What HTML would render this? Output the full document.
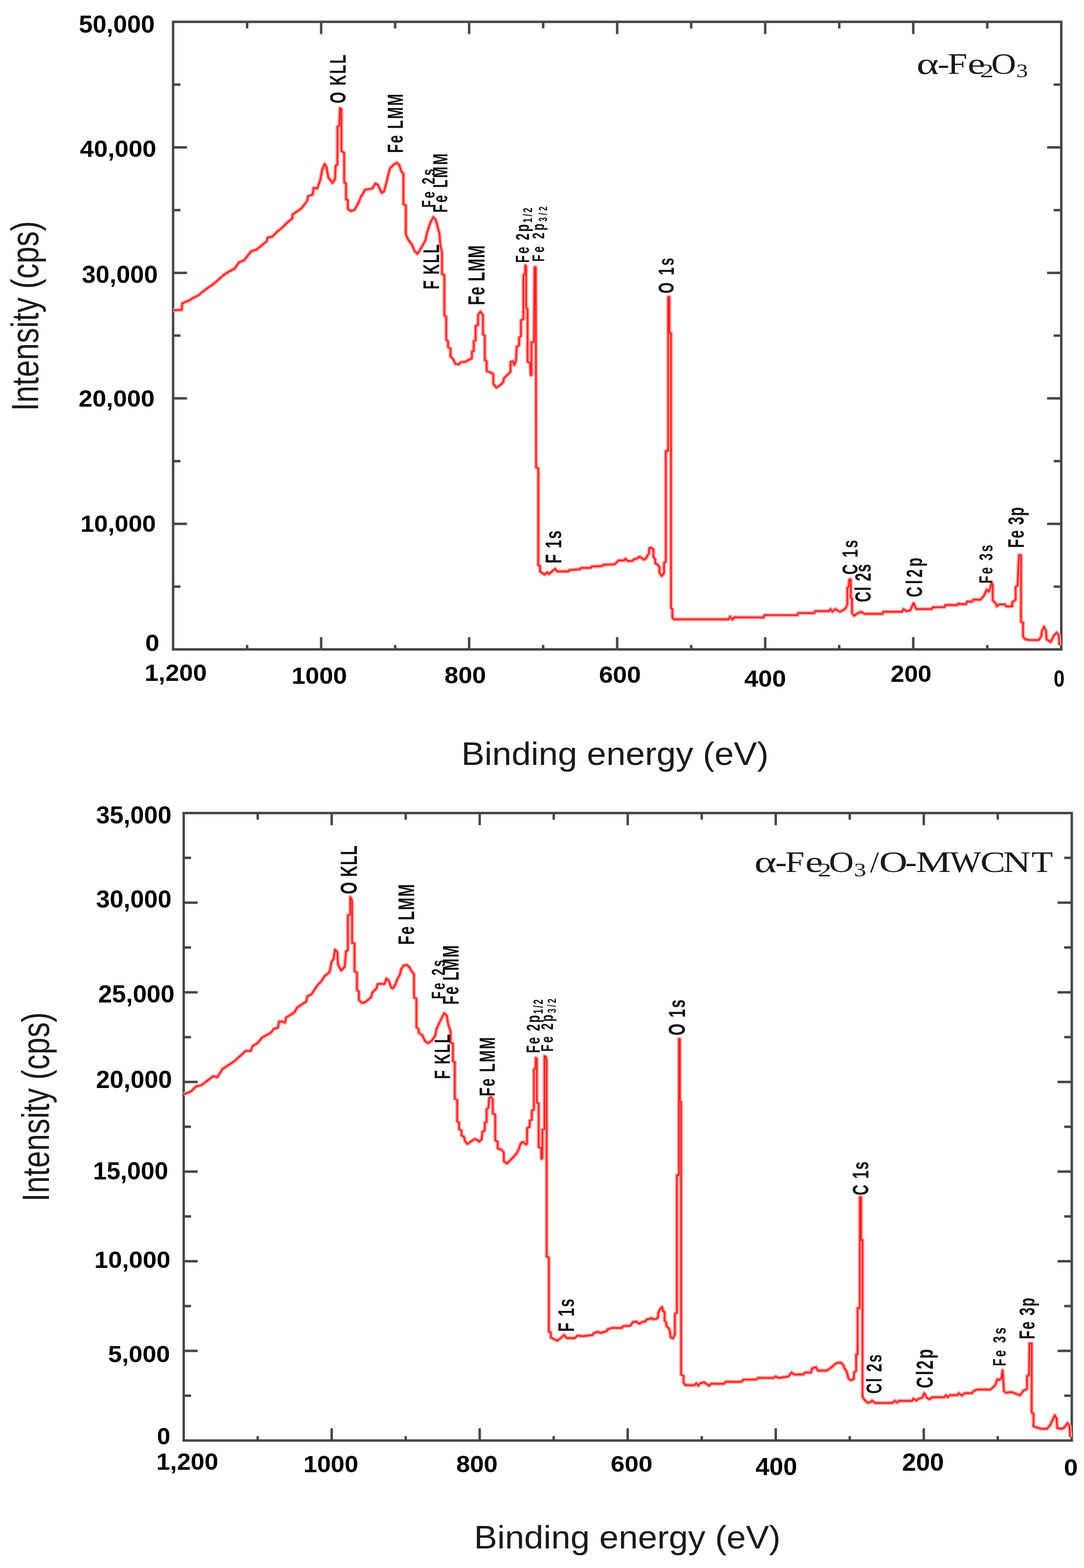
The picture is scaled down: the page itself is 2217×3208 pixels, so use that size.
<!DOCTYPE html>
<html><head><meta charset="utf-8"><title>XPS survey spectra</title>
<style>html,body{margin:0;padding:0;background:#fff;}svg{display:block;}</style>
</head><body>
<svg width="2217" height="3208" viewBox="0 0 2217 3208">
<rect width="2217" height="3208" fill="#fff"/>
<g stroke="#464646" stroke-width="5" fill="none" stroke-linecap="butt">
<rect x="354.0" y="44.7" width="1816.5" height="1283.8999999999999"/>
<line x1="2019.1" y1="1328.6" x2="2019.1" y2="1319.6"/>
<line x1="2019.1" y1="44.7" x2="2019.1" y2="58.2"/>
<line x1="1867.8" y1="1328.6" x2="1867.8" y2="1303.6"/>
<line x1="1867.8" y1="44.7" x2="1867.8" y2="69.7"/>
<line x1="1716.4" y1="1328.6" x2="1716.4" y2="1319.6"/>
<line x1="1716.4" y1="44.7" x2="1716.4" y2="58.2"/>
<line x1="1565.0" y1="1328.6" x2="1565.0" y2="1303.6"/>
<line x1="1565.0" y1="44.7" x2="1565.0" y2="69.7"/>
<line x1="1413.6" y1="1328.6" x2="1413.6" y2="1319.6"/>
<line x1="1413.6" y1="44.7" x2="1413.6" y2="58.2"/>
<line x1="1262.2" y1="1328.6" x2="1262.2" y2="1303.6"/>
<line x1="1262.2" y1="44.7" x2="1262.2" y2="69.7"/>
<line x1="1110.9" y1="1328.6" x2="1110.9" y2="1319.6"/>
<line x1="1110.9" y1="44.7" x2="1110.9" y2="58.2"/>
<line x1="959.5" y1="1328.6" x2="959.5" y2="1303.6"/>
<line x1="959.5" y1="44.7" x2="959.5" y2="69.7"/>
<line x1="808.1" y1="1328.6" x2="808.1" y2="1319.6"/>
<line x1="808.1" y1="44.7" x2="808.1" y2="58.2"/>
<line x1="656.8" y1="1328.6" x2="656.8" y2="1303.6"/>
<line x1="656.8" y1="44.7" x2="656.8" y2="69.7"/>
<line x1="505.4" y1="1328.6" x2="505.4" y2="1319.6"/>
<line x1="505.4" y1="44.7" x2="505.4" y2="58.2"/>
<line x1="354.0" y1="1071.8" x2="382.5" y2="1071.8"/>
<line x1="2170.5" y1="1071.8" x2="2141.5" y2="1071.8"/>
<line x1="354.0" y1="815.0" x2="382.5" y2="815.0"/>
<line x1="2170.5" y1="815.0" x2="2141.5" y2="815.0"/>
<line x1="354.0" y1="558.3" x2="382.5" y2="558.3"/>
<line x1="2170.5" y1="558.3" x2="2141.5" y2="558.3"/>
<line x1="354.0" y1="301.5" x2="382.5" y2="301.5"/>
<line x1="2170.5" y1="301.5" x2="2141.5" y2="301.5"/>
<line x1="354.0" y1="1200.2" x2="369.0" y2="1200.2"/>
<line x1="2170.5" y1="1200.2" x2="2155.0" y2="1200.2"/>
<line x1="354.0" y1="943.4" x2="369.0" y2="943.4"/>
<line x1="2170.5" y1="943.4" x2="2155.0" y2="943.4"/>
<line x1="354.0" y1="686.6" x2="369.0" y2="686.6"/>
<line x1="2170.5" y1="686.6" x2="2155.0" y2="686.6"/>
<line x1="354.0" y1="429.9" x2="369.0" y2="429.9"/>
<line x1="2170.5" y1="429.9" x2="2155.0" y2="429.9"/>
<line x1="354.0" y1="173.1" x2="369.0" y2="173.1"/>
<line x1="2170.5" y1="173.1" x2="2155.0" y2="173.1"/>
</g>
<g stroke="#464646" stroke-width="5" fill="none" stroke-linecap="butt">
<rect x="375.7" y="1663.4" width="1816.3" height="1283.7999999999997"/>
<line x1="2040.6" y1="2947.2" x2="2040.6" y2="2938.2"/>
<line x1="2040.6" y1="1663.4" x2="2040.6" y2="1676.9"/>
<line x1="1889.3" y1="2947.2" x2="1889.3" y2="2922.2"/>
<line x1="1889.3" y1="1663.4" x2="1889.3" y2="1688.4"/>
<line x1="1737.9" y1="2947.2" x2="1737.9" y2="2938.2"/>
<line x1="1737.9" y1="1663.4" x2="1737.9" y2="1676.9"/>
<line x1="1586.6" y1="2947.2" x2="1586.6" y2="2922.2"/>
<line x1="1586.6" y1="1663.4" x2="1586.6" y2="1688.4"/>
<line x1="1435.2" y1="2947.2" x2="1435.2" y2="2938.2"/>
<line x1="1435.2" y1="1663.4" x2="1435.2" y2="1676.9"/>
<line x1="1283.8" y1="2947.2" x2="1283.8" y2="2922.2"/>
<line x1="1283.8" y1="1663.4" x2="1283.8" y2="1688.4"/>
<line x1="1132.5" y1="2947.2" x2="1132.5" y2="2938.2"/>
<line x1="1132.5" y1="1663.4" x2="1132.5" y2="1676.9"/>
<line x1="981.1" y1="2947.2" x2="981.1" y2="2922.2"/>
<line x1="981.1" y1="1663.4" x2="981.1" y2="1688.4"/>
<line x1="829.8" y1="2947.2" x2="829.8" y2="2938.2"/>
<line x1="829.8" y1="1663.4" x2="829.8" y2="1676.9"/>
<line x1="678.4" y1="2947.2" x2="678.4" y2="2922.2"/>
<line x1="678.4" y1="1663.4" x2="678.4" y2="1688.4"/>
<line x1="527.1" y1="2947.2" x2="527.1" y2="2938.2"/>
<line x1="527.1" y1="1663.4" x2="527.1" y2="1676.9"/>
<line x1="375.7" y1="2763.8" x2="404.2" y2="2763.8"/>
<line x1="2192.0" y1="2763.8" x2="2163.0" y2="2763.8"/>
<line x1="375.7" y1="2580.4" x2="404.2" y2="2580.4"/>
<line x1="2192.0" y1="2580.4" x2="2163.0" y2="2580.4"/>
<line x1="375.7" y1="2397.0" x2="404.2" y2="2397.0"/>
<line x1="2192.0" y1="2397.0" x2="2163.0" y2="2397.0"/>
<line x1="375.7" y1="2213.6" x2="404.2" y2="2213.6"/>
<line x1="2192.0" y1="2213.6" x2="2163.0" y2="2213.6"/>
<line x1="375.7" y1="2030.2" x2="404.2" y2="2030.2"/>
<line x1="2192.0" y1="2030.2" x2="2163.0" y2="2030.2"/>
<line x1="375.7" y1="1846.8" x2="404.2" y2="1846.8"/>
<line x1="2192.0" y1="1846.8" x2="2163.0" y2="1846.8"/>
<line x1="375.7" y1="2855.5" x2="390.7" y2="2855.5"/>
<line x1="2192.0" y1="2855.5" x2="2176.5" y2="2855.5"/>
<line x1="375.7" y1="2672.1" x2="390.7" y2="2672.1"/>
<line x1="2192.0" y1="2672.1" x2="2176.5" y2="2672.1"/>
<line x1="375.7" y1="2488.7" x2="390.7" y2="2488.7"/>
<line x1="2192.0" y1="2488.7" x2="2176.5" y2="2488.7"/>
<line x1="375.7" y1="2305.3" x2="390.7" y2="2305.3"/>
<line x1="2192.0" y1="2305.3" x2="2176.5" y2="2305.3"/>
<line x1="375.7" y1="2121.9" x2="390.7" y2="2121.9"/>
<line x1="2192.0" y1="2121.9" x2="2176.5" y2="2121.9"/>
<line x1="375.7" y1="1938.5" x2="390.7" y2="1938.5"/>
<line x1="2192.0" y1="1938.5" x2="2176.5" y2="1938.5"/>
<line x1="375.7" y1="1755.1" x2="390.7" y2="1755.1"/>
<line x1="2192.0" y1="1755.1" x2="2176.5" y2="1755.1"/>
</g>
<path d="M354.0,634.9 L371.6,634.0 L372.5,620.8 L387.6,614.2 L395.1,609.5 L406.4,603.9 L415.8,595.5 L425.2,588.9 L434.6,582.3 L444.0,574.8 L455.3,564.4 L467.5,556.0 L480.0,549.5 L488.5,536.8 L498.8,533.0 L513.5,514.3 L524.8,510.5 L534.2,503.0 L545.5,493.6 L547.4,486.1 L556.8,484.2 L568.0,472.9 L577.4,465.4 L586.8,456.0 L598.1,446.6 L598.1,439.1 L616.9,425.9 L628.2,410.9 L630.1,401.5 L639.5,397.7 L641.4,384.6 L648.8,385.5 L655.1,367.9 L658.8,347.9 L663.8,335.3 L667.6,341.6 L671.4,362.9 L680.1,374.2 L685.1,366.7 L686.4,339.1 L690.2,336.6 L690.2,258.9 L693.9,257.6 L695.2,221.3 L698.3,223.8 L698.3,309.0 L703.9,312.8 L703.9,372.9 L707.7,375.4 L707.7,408.0 L711.5,409.3 L711.5,428.1 L717.7,431.8 L725.2,429.3 L732.8,415.5 L739.0,400.5 L741.5,398.0 L746.5,388.0 L761.6,385.5 L767.8,375.4 L772.9,378.0 L780.4,394.2 L785.4,391.7 L790.4,372.9 L794.2,356.6 L797.9,344.1 L805.4,336.6 L811.7,332.8 L816.7,337.8 L820.5,350.4 L825.0,355.1 L825.0,417.8 L830.0,420.3 L830.0,479.2 L835.0,490.5 L842.6,500.5 L847.6,513.0 L853.8,519.3 L860.1,509.3 L870.1,491.7 L873.9,474.2 L877.6,462.9 L881.4,452.9 L886.4,444.1 L891.4,450.4 L895.2,464.2 L899.0,479.2 L900.5,500.5 L904.0,516.8 L904.0,560.7 L908.8,562.6 L908.8,645.3 L912.6,647.8 L912.6,695.4 L916.3,697.9 L916.3,710.4 L921.3,712.9 L921.3,729.2 L926.3,734.2 L931.4,744.3 L937.6,745.5 L943.9,740.5 L951.4,740.5 L957.7,736.7 L965.2,733.0 L965.2,719.2 L968.9,718.0 L968.9,697.9 L972.7,696.6 L972.7,666.6 L977.7,665.3 L977.7,644.0 L982.7,637.7 L987.7,644.0 L987.7,684.1 L991.5,686.6 L991.5,736.7 L995.3,739.2 L995.3,759.3 L1002.8,761.8 L1009.0,765.6 L1009.0,785.6 L1015.3,793.1 L1022.8,788.1 L1029.1,781.9 L1030.4,774.3 L1039.1,765.6 L1044.1,760.6 L1044.1,740.5 L1049.2,739.2 L1051.7,746.8 L1055.4,738.0 L1056.7,709.2 L1061.7,706.7 L1061.7,690.4 L1065.4,687.9 L1065.4,655.3 L1070.5,652.8 L1070.5,562.3 L1073.8,561.0 L1074.4,542.9 L1076.0,545.0 L1076.0,629.9 L1079.0,632.5 L1079.0,740.3 L1084.2,742.9 L1085.5,767.5 L1087.0,767.5 L1087.0,700.0 L1092.0,700.0 L1093.2,546.8 L1095.8,546.8 L1096.4,956.4 L1100.9,958.2 L1100.9,1156.4 L1104.5,1158.2 L1104.5,1169.1 L1113.6,1175.5 L1119.1,1170.9 L1122.7,1174.5 L1135.5,1163.6 L1139.1,1169.1 L1162.7,1169.1 L1164.5,1166.4 L1186.4,1164.5 L1188.2,1161.8 L1208.2,1161.8 L1210.0,1159.1 L1231.8,1158.2 L1233.6,1155.5 L1257.3,1154.5 L1265.0,1146.7 L1276.3,1146.7 L1279.1,1143.0 L1283.8,1147.7 L1293.2,1147.7 L1297.0,1143.9 L1302.6,1143.0 L1307.3,1139.2 L1311.1,1140.2 L1315.8,1144.8 L1320.5,1143.0 L1324.2,1136.4 L1327.1,1132.6 L1328.0,1121.4 L1331.8,1120.4 L1336.5,1124.2 L1336.5,1140.2 L1340.2,1143.9 L1340.2,1152.4 L1344.9,1155.2 L1348.7,1159.9 L1348.7,1171.2 L1353.4,1178.7 L1358.1,1172.1 L1358.1,1151.4 L1361.7,1149.5 L1361.7,922.5 L1366.5,922.5 L1366.5,607.7 L1369.0,607.7 L1369.0,680.4 L1372.3,682.0 L1372.3,1244.0 L1375.1,1246.5 L1375.1,1264.0 L1378.8,1267.2 L1490.4,1267.2 L1492.9,1261.5 L1497.9,1267.8 L1501.6,1262.8 L1562.0,1263.4 L1563.4,1258.5 L1631.0,1258.5 L1632.3,1254.4 L1665.4,1254.4 L1666.8,1250.3 L1695.8,1250.3 L1698.5,1246.1 L1702.6,1251.6 L1708.2,1246.1 L1717.8,1251.6 L1726.1,1247.5 L1730.2,1243.4 L1733.0,1236.5 L1733.0,1202.0 L1736.0,1200.0 L1737.0,1185.5 L1740.0,1185.5 L1740.0,1222.7 L1742.6,1224.1 L1742.6,1254.4 L1746.8,1259.9 L1752.3,1255.8 L1761.0,1251.6 L1767.9,1255.8 L1805.1,1255.8 L1806.5,1251.6 L1845.1,1251.6 L1847.9,1246.1 L1853.4,1250.3 L1861.6,1248.9 L1868.5,1233.7 L1874.0,1246.1 L1905.8,1246.1 L1907.1,1242.7 L1932.0,1242.0 L1933.3,1237.9 L1958.1,1237.9 L1959.5,1235.1 L1975.2,1236.5 L1977.9,1230.9 L1988.9,1230.9 L1990.3,1226.8 L2005.5,1226.8 L2012.4,1218.5 L2017.9,1206.1 L2022.0,1210.3 L2024.8,1204.8 L2027.5,1193.7 L2030.3,1195.1 L2030.3,1228.2 L2035.8,1233.7 L2038.6,1240.6 L2044.1,1236.5 L2055.1,1236.5 L2057.9,1240.6 L2070.3,1240.6 L2070.3,1232.3 L2077.2,1226.8 L2077.2,1200.6 L2081.3,1197.9 L2084.0,1135.8 L2088.2,1135.8 L2088.2,1196.5 L2088.2,1272.3 L2092.3,1273.7 L2092.3,1302.6 L2097.8,1308.1 L2104.7,1309.5 L2124.0,1309.5 L2129.5,1302.6 L2130.9,1291.6 L2135.1,1281.9 L2139.2,1290.2 L2140.6,1308.1 L2148.8,1313.6 L2155.7,1299.9 L2161.2,1294.3 L2165.4,1299.9 L2166.8,1320.5" fill="none" stroke="#ffa6a6" stroke-width="8.2" stroke-linejoin="round"/>
<path d="M375.7,2239.1 L390.7,2232.9 L401.0,2222.6 L411.4,2220.5 L436.2,2201.9 L444.4,2204.0 L454.8,2187.4 L467.2,2179.2 L479.6,2170.9 L502.3,2150.2 L512.7,2150.2 L516.8,2139.9 L527.2,2133.7 L535.4,2123.3 L545.8,2117.1 L554.0,2113.0 L560.2,2104.7 L568.5,2102.6 L570.6,2090.2 L578.9,2090.2 L583.0,2092.3 L585.0,2082.0 L601.6,2071.6 L607.8,2061.3 L626.4,2048.9 L628.5,2038.5 L636.8,2034.4 L649.2,2015.8 L657.4,2007.5 L663.6,1997.2 L674.0,1988.9 L678.1,1968.2 L682.2,1962.0 L685.2,1942.9 L690.0,1947.9 L691.3,1972.9 L697.5,1985.5 L705.1,1978.0 L707.6,1946.6 L711.5,1944.1 L711.5,1872.7 L716.3,1871.4 L716.3,1835.1 L720.1,1842.6 L720.1,1929.1 L725.1,1930.3 L725.1,1986.7 L730.1,1990.5 L730.1,2025.6 L733.9,2028.1 L733.9,2045.6 L740.2,2051.9 L746.4,2050.6 L752.7,2045.6 L758.9,2040.6 L761.5,2030.6 L770.2,2021.8 L772.7,2013.0 L786.5,2013.0 L790.3,2001.8 L795.3,2006.8 L800.3,2020.6 L804.1,2021.8 L809.1,2013.0 L812.8,2003.0 L817.8,1994.2 L820.4,1983.0 L825.4,1975.4 L831.6,1974.2 L836.6,1977.9 L841.7,1986.7 L846.7,1993.0 L846.7,2040.6 L851.7,2043.1 L851.7,2101.8 L856.3,2105.5 L856.3,2113.0 L863.8,2118.0 L868.8,2129.3 L875.1,2134.3 L882.6,2129.3 L890.1,2119.3 L892.6,2105.5 L898.9,2091.7 L903.9,2081.7 L908.3,2072.9 L913.9,2078.0 L916.4,2094.2 L920.1,2106.3 L921.5,2110.5 L921.5,2133.1 L926.4,2135.1 L926.4,2171.4 L930.1,2172.7 L930.1,2247.9 L935.1,2250.4 L935.1,2294.2 L938.9,2296.7 L938.9,2310.5 L943.9,2313.0 L943.9,2323.1 L948.9,2325.6 L951.4,2335.6 L956.4,2340.6 L962.7,2335.6 L970.2,2330.6 L975.2,2331.8 L980.3,2335.6 L985.3,2330.6 L986.5,2315.5 L991.5,2313.0 L991.5,2296.7 L995.3,2295.5 L995.3,2269.2 L999.0,2266.7 L1000.3,2246.6 L1004.1,2244.1 L1007.8,2249.1 L1007.8,2278.0 L1012.8,2280.5 L1012.8,2333.1 L1017.8,2335.6 L1017.8,2349.4 L1025.4,2351.9 L1030.4,2358.1 L1030.4,2375.7 L1036.8,2380.5 L1043.3,2374.0 L1049.8,2367.5 L1056.3,2360.0 L1060.6,2352.4 L1064.9,2339.4 L1069.3,2336.1 L1075.8,2341.6 L1077.9,2339.4 L1077.9,2308.0 L1083.3,2305.8 L1083.3,2292.9 L1087.7,2290.7 L1087.7,2272.3 L1092.0,2270.1 L1092.0,2187.9 L1095.2,2185.7 L1095.8,2164.1 L1097.9,2166.0 L1097.9,2256.1 L1101.7,2257.1 L1101.7,2347.0 L1107.1,2349.1 L1107.1,2370.8 L1109.3,2369.7 L1109.3,2311.3 L1113.6,2310.2 L1113.6,2160.8 L1116.0,2162.0 L1118.0,2168.4 L1118.0,2570.8 L1122.5,2572.7 L1122.5,2724.7 L1126.4,2726.0 L1126.4,2736.4 L1139.4,2742.9 L1147.1,2737.7 L1153.6,2731.2 L1158.8,2737.7 L1175.7,2737.7 L1180.9,2732.5 L1192.6,2733.8 L1212.1,2731.2 L1214.7,2727.3 L1222.5,2724.7 L1227.7,2727.3 L1240.6,2723.4 L1243.2,2719.5 L1251.0,2716.9 L1271.8,2716.9 L1274.4,2713.0 L1289.0,2712.3 L1295.0,2704.3 L1302.1,2704.3 L1307.1,2708.3 L1312.1,2705.3 L1320.1,2703.3 L1323.1,2699.3 L1329.1,2698.3 L1332.1,2696.3 L1336.1,2699.3 L1342.2,2698.3 L1346.2,2694.3 L1346.2,2686.3 L1350.2,2678.2 L1354.2,2674.2 L1356.2,2682.3 L1359.2,2684.3 L1359.2,2701.3 L1362.2,2705.3 L1363.2,2713.3 L1368.2,2718.3 L1370.2,2723.4 L1371.2,2735.4 L1376.2,2738.4 L1380.3,2730.4 L1380.3,2687.3 L1384.3,2686.3 L1384.3,2404.4 L1388.5,2404.4 L1388.5,2125.5 L1390.5,2125.5 L1390.5,2252.7 L1393.0,2254.0 L1393.0,2812.1 L1398.0,2815.1 L1398.0,2829.1 L1402.1,2834.1 L1420.1,2834.1 L1424.1,2830.1 L1428.1,2835.1 L1432.1,2830.1 L1440.2,2828.1 L1450.2,2835.1 L1454.2,2831.1 L1480.3,2831.1 L1484.3,2827.1 L1516.3,2827.1 L1520.4,2822.5 L1546.4,2822.5 L1550.4,2819.1 L1582.5,2819.1 L1586.5,2816.1 L1592.5,2819.1 L1612.6,2816.1 L1618.6,2808.1 L1624.6,2812.1 L1642.7,2812.1 L1646.7,2808.1 L1658.7,2808.1 L1660.7,2800.0 L1668.7,2797.0 L1672.7,2804.1 L1690.8,2804.1 L1696.2,2800.5 L1702.5,2795.9 L1707.1,2791.2 L1712.6,2788.1 L1720.4,2788.1 L1725.1,2793.5 L1727.4,2800.5 L1730.5,2803.7 L1733.6,2813.0 L1735.2,2820.0 L1739.9,2823.9 L1746.1,2821.6 L1746.9,2807.6 L1751.0,2805.2 L1751.0,2771.0 L1754.0,2771.0 L1754.0,2676.4 L1758.5,2676.4 L1758.5,2449.1 L1761.0,2449.1 L1761.0,2537.0 L1764.0,2537.0 L1764.0,2857.4 L1768.0,2863.7 L1774.2,2869.9 L1780.4,2868.4 L1783.5,2865.2 L1789.6,2870.3 L1825.5,2870.3 L1829.6,2866.1 L1835.1,2869.6 L1837.9,2866.1 L1865.5,2866.1 L1868.2,2861.3 L1873.7,2865.5 L1879.2,2861.3 L1886.1,2860.0 L1890.3,2850.3 L1895.8,2860.0 L1901.3,2862.7 L1906.8,2858.6 L1931.6,2858.6 L1934.4,2854.4 L1938.5,2858.6 L1942.6,2854.4 L1957.8,2854.4 L1960.6,2850.3 L1967.5,2855.1 L1973.0,2850.3 L1988.1,2850.3 L1990.9,2846.2 L1997.9,2842.9 L2025.5,2842.9 L2034.7,2835.0 L2040.0,2821.8 L2043.9,2823.2 L2047.9,2820.5 L2050.5,2803.4 L2051.8,2820.5 L2053.2,2845.5 L2057.1,2849.5 L2068.9,2848.2 L2079.5,2852.1 L2086.1,2854.7 L2092.6,2845.5 L2100.5,2841.6 L2100.5,2815.3 L2104.5,2814.0 L2105.5,2748.6 L2110.0,2748.6 L2110.0,2890.3 L2113.7,2891.6 L2113.7,2917.9 L2120.3,2920.5 L2129.5,2923.2 L2141.3,2923.2 L2147.9,2915.3 L2151.8,2907.4 L2157.1,2895.5 L2161.0,2902.1 L2162.4,2921.8 L2170.3,2923.2 L2175.5,2921.8 L2183.4,2911.3 L2187.4,2917.9 L2188.7,2940.3" fill="none" stroke="#ffa6a6" stroke-width="8.2" stroke-linejoin="round"/>
<path d="M354.0,634.9 L371.6,634.0 L372.5,620.8 L387.6,614.2 L395.1,609.5 L406.4,603.9 L415.8,595.5 L425.2,588.9 L434.6,582.3 L444.0,574.8 L455.3,564.4 L467.5,556.0 L480.0,549.5 L488.5,536.8 L498.8,533.0 L513.5,514.3 L524.8,510.5 L534.2,503.0 L545.5,493.6 L547.4,486.1 L556.8,484.2 L568.0,472.9 L577.4,465.4 L586.8,456.0 L598.1,446.6 L598.1,439.1 L616.9,425.9 L628.2,410.9 L630.1,401.5 L639.5,397.7 L641.4,384.6 L648.8,385.5 L655.1,367.9 L658.8,347.9 L663.8,335.3 L667.6,341.6 L671.4,362.9 L680.1,374.2 L685.1,366.7 L686.4,339.1 L690.2,336.6 L690.2,258.9 L693.9,257.6 L695.2,221.3 L698.3,223.8 L698.3,309.0 L703.9,312.8 L703.9,372.9 L707.7,375.4 L707.7,408.0 L711.5,409.3 L711.5,428.1 L717.7,431.8 L725.2,429.3 L732.8,415.5 L739.0,400.5 L741.5,398.0 L746.5,388.0 L761.6,385.5 L767.8,375.4 L772.9,378.0 L780.4,394.2 L785.4,391.7 L790.4,372.9 L794.2,356.6 L797.9,344.1 L805.4,336.6 L811.7,332.8 L816.7,337.8 L820.5,350.4 L825.0,355.1 L825.0,417.8 L830.0,420.3 L830.0,479.2 L835.0,490.5 L842.6,500.5 L847.6,513.0 L853.8,519.3 L860.1,509.3 L870.1,491.7 L873.9,474.2 L877.6,462.9 L881.4,452.9 L886.4,444.1 L891.4,450.4 L895.2,464.2 L899.0,479.2 L900.5,500.5 L904.0,516.8 L904.0,560.7 L908.8,562.6 L908.8,645.3 L912.6,647.8 L912.6,695.4 L916.3,697.9 L916.3,710.4 L921.3,712.9 L921.3,729.2 L926.3,734.2 L931.4,744.3 L937.6,745.5 L943.9,740.5 L951.4,740.5 L957.7,736.7 L965.2,733.0 L965.2,719.2 L968.9,718.0 L968.9,697.9 L972.7,696.6 L972.7,666.6 L977.7,665.3 L977.7,644.0 L982.7,637.7 L987.7,644.0 L987.7,684.1 L991.5,686.6 L991.5,736.7 L995.3,739.2 L995.3,759.3 L1002.8,761.8 L1009.0,765.6 L1009.0,785.6 L1015.3,793.1 L1022.8,788.1 L1029.1,781.9 L1030.4,774.3 L1039.1,765.6 L1044.1,760.6 L1044.1,740.5 L1049.2,739.2 L1051.7,746.8 L1055.4,738.0 L1056.7,709.2 L1061.7,706.7 L1061.7,690.4 L1065.4,687.9 L1065.4,655.3 L1070.5,652.8 L1070.5,562.3 L1073.8,561.0 L1074.4,542.9 L1076.0,545.0 L1076.0,629.9 L1079.0,632.5 L1079.0,740.3 L1084.2,742.9 L1085.5,767.5 L1087.0,767.5 L1087.0,700.0 L1092.0,700.0 L1093.2,546.8 L1095.8,546.8 L1096.4,956.4 L1100.9,958.2 L1100.9,1156.4 L1104.5,1158.2 L1104.5,1169.1 L1113.6,1175.5 L1119.1,1170.9 L1122.7,1174.5 L1135.5,1163.6 L1139.1,1169.1 L1162.7,1169.1 L1164.5,1166.4 L1186.4,1164.5 L1188.2,1161.8 L1208.2,1161.8 L1210.0,1159.1 L1231.8,1158.2 L1233.6,1155.5 L1257.3,1154.5 L1265.0,1146.7 L1276.3,1146.7 L1279.1,1143.0 L1283.8,1147.7 L1293.2,1147.7 L1297.0,1143.9 L1302.6,1143.0 L1307.3,1139.2 L1311.1,1140.2 L1315.8,1144.8 L1320.5,1143.0 L1324.2,1136.4 L1327.1,1132.6 L1328.0,1121.4 L1331.8,1120.4 L1336.5,1124.2 L1336.5,1140.2 L1340.2,1143.9 L1340.2,1152.4 L1344.9,1155.2 L1348.7,1159.9 L1348.7,1171.2 L1353.4,1178.7 L1358.1,1172.1 L1358.1,1151.4 L1361.7,1149.5 L1361.7,922.5 L1366.5,922.5 L1366.5,607.7 L1369.0,607.7 L1369.0,680.4 L1372.3,682.0 L1372.3,1244.0 L1375.1,1246.5 L1375.1,1264.0 L1378.8,1267.2 L1490.4,1267.2 L1492.9,1261.5 L1497.9,1267.8 L1501.6,1262.8 L1562.0,1263.4 L1563.4,1258.5 L1631.0,1258.5 L1632.3,1254.4 L1665.4,1254.4 L1666.8,1250.3 L1695.8,1250.3 L1698.5,1246.1 L1702.6,1251.6 L1708.2,1246.1 L1717.8,1251.6 L1726.1,1247.5 L1730.2,1243.4 L1733.0,1236.5 L1733.0,1202.0 L1736.0,1200.0 L1737.0,1185.5 L1740.0,1185.5 L1740.0,1222.7 L1742.6,1224.1 L1742.6,1254.4 L1746.8,1259.9 L1752.3,1255.8 L1761.0,1251.6 L1767.9,1255.8 L1805.1,1255.8 L1806.5,1251.6 L1845.1,1251.6 L1847.9,1246.1 L1853.4,1250.3 L1861.6,1248.9 L1868.5,1233.7 L1874.0,1246.1 L1905.8,1246.1 L1907.1,1242.7 L1932.0,1242.0 L1933.3,1237.9 L1958.1,1237.9 L1959.5,1235.1 L1975.2,1236.5 L1977.9,1230.9 L1988.9,1230.9 L1990.3,1226.8 L2005.5,1226.8 L2012.4,1218.5 L2017.9,1206.1 L2022.0,1210.3 L2024.8,1204.8 L2027.5,1193.7 L2030.3,1195.1 L2030.3,1228.2 L2035.8,1233.7 L2038.6,1240.6 L2044.1,1236.5 L2055.1,1236.5 L2057.9,1240.6 L2070.3,1240.6 L2070.3,1232.3 L2077.2,1226.8 L2077.2,1200.6 L2081.3,1197.9 L2084.0,1135.8 L2088.2,1135.8 L2088.2,1196.5 L2088.2,1272.3 L2092.3,1273.7 L2092.3,1302.6 L2097.8,1308.1 L2104.7,1309.5 L2124.0,1309.5 L2129.5,1302.6 L2130.9,1291.6 L2135.1,1281.9 L2139.2,1290.2 L2140.6,1308.1 L2148.8,1313.6 L2155.7,1299.9 L2161.2,1294.3 L2165.4,1299.9 L2166.8,1320.5" fill="none" stroke="#ff1f1f" stroke-width="3.2" stroke-linejoin="round"/>
<path d="M375.7,2239.1 L390.7,2232.9 L401.0,2222.6 L411.4,2220.5 L436.2,2201.9 L444.4,2204.0 L454.8,2187.4 L467.2,2179.2 L479.6,2170.9 L502.3,2150.2 L512.7,2150.2 L516.8,2139.9 L527.2,2133.7 L535.4,2123.3 L545.8,2117.1 L554.0,2113.0 L560.2,2104.7 L568.5,2102.6 L570.6,2090.2 L578.9,2090.2 L583.0,2092.3 L585.0,2082.0 L601.6,2071.6 L607.8,2061.3 L626.4,2048.9 L628.5,2038.5 L636.8,2034.4 L649.2,2015.8 L657.4,2007.5 L663.6,1997.2 L674.0,1988.9 L678.1,1968.2 L682.2,1962.0 L685.2,1942.9 L690.0,1947.9 L691.3,1972.9 L697.5,1985.5 L705.1,1978.0 L707.6,1946.6 L711.5,1944.1 L711.5,1872.7 L716.3,1871.4 L716.3,1835.1 L720.1,1842.6 L720.1,1929.1 L725.1,1930.3 L725.1,1986.7 L730.1,1990.5 L730.1,2025.6 L733.9,2028.1 L733.9,2045.6 L740.2,2051.9 L746.4,2050.6 L752.7,2045.6 L758.9,2040.6 L761.5,2030.6 L770.2,2021.8 L772.7,2013.0 L786.5,2013.0 L790.3,2001.8 L795.3,2006.8 L800.3,2020.6 L804.1,2021.8 L809.1,2013.0 L812.8,2003.0 L817.8,1994.2 L820.4,1983.0 L825.4,1975.4 L831.6,1974.2 L836.6,1977.9 L841.7,1986.7 L846.7,1993.0 L846.7,2040.6 L851.7,2043.1 L851.7,2101.8 L856.3,2105.5 L856.3,2113.0 L863.8,2118.0 L868.8,2129.3 L875.1,2134.3 L882.6,2129.3 L890.1,2119.3 L892.6,2105.5 L898.9,2091.7 L903.9,2081.7 L908.3,2072.9 L913.9,2078.0 L916.4,2094.2 L920.1,2106.3 L921.5,2110.5 L921.5,2133.1 L926.4,2135.1 L926.4,2171.4 L930.1,2172.7 L930.1,2247.9 L935.1,2250.4 L935.1,2294.2 L938.9,2296.7 L938.9,2310.5 L943.9,2313.0 L943.9,2323.1 L948.9,2325.6 L951.4,2335.6 L956.4,2340.6 L962.7,2335.6 L970.2,2330.6 L975.2,2331.8 L980.3,2335.6 L985.3,2330.6 L986.5,2315.5 L991.5,2313.0 L991.5,2296.7 L995.3,2295.5 L995.3,2269.2 L999.0,2266.7 L1000.3,2246.6 L1004.1,2244.1 L1007.8,2249.1 L1007.8,2278.0 L1012.8,2280.5 L1012.8,2333.1 L1017.8,2335.6 L1017.8,2349.4 L1025.4,2351.9 L1030.4,2358.1 L1030.4,2375.7 L1036.8,2380.5 L1043.3,2374.0 L1049.8,2367.5 L1056.3,2360.0 L1060.6,2352.4 L1064.9,2339.4 L1069.3,2336.1 L1075.8,2341.6 L1077.9,2339.4 L1077.9,2308.0 L1083.3,2305.8 L1083.3,2292.9 L1087.7,2290.7 L1087.7,2272.3 L1092.0,2270.1 L1092.0,2187.9 L1095.2,2185.7 L1095.8,2164.1 L1097.9,2166.0 L1097.9,2256.1 L1101.7,2257.1 L1101.7,2347.0 L1107.1,2349.1 L1107.1,2370.8 L1109.3,2369.7 L1109.3,2311.3 L1113.6,2310.2 L1113.6,2160.8 L1116.0,2162.0 L1118.0,2168.4 L1118.0,2570.8 L1122.5,2572.7 L1122.5,2724.7 L1126.4,2726.0 L1126.4,2736.4 L1139.4,2742.9 L1147.1,2737.7 L1153.6,2731.2 L1158.8,2737.7 L1175.7,2737.7 L1180.9,2732.5 L1192.6,2733.8 L1212.1,2731.2 L1214.7,2727.3 L1222.5,2724.7 L1227.7,2727.3 L1240.6,2723.4 L1243.2,2719.5 L1251.0,2716.9 L1271.8,2716.9 L1274.4,2713.0 L1289.0,2712.3 L1295.0,2704.3 L1302.1,2704.3 L1307.1,2708.3 L1312.1,2705.3 L1320.1,2703.3 L1323.1,2699.3 L1329.1,2698.3 L1332.1,2696.3 L1336.1,2699.3 L1342.2,2698.3 L1346.2,2694.3 L1346.2,2686.3 L1350.2,2678.2 L1354.2,2674.2 L1356.2,2682.3 L1359.2,2684.3 L1359.2,2701.3 L1362.2,2705.3 L1363.2,2713.3 L1368.2,2718.3 L1370.2,2723.4 L1371.2,2735.4 L1376.2,2738.4 L1380.3,2730.4 L1380.3,2687.3 L1384.3,2686.3 L1384.3,2404.4 L1388.5,2404.4 L1388.5,2125.5 L1390.5,2125.5 L1390.5,2252.7 L1393.0,2254.0 L1393.0,2812.1 L1398.0,2815.1 L1398.0,2829.1 L1402.1,2834.1 L1420.1,2834.1 L1424.1,2830.1 L1428.1,2835.1 L1432.1,2830.1 L1440.2,2828.1 L1450.2,2835.1 L1454.2,2831.1 L1480.3,2831.1 L1484.3,2827.1 L1516.3,2827.1 L1520.4,2822.5 L1546.4,2822.5 L1550.4,2819.1 L1582.5,2819.1 L1586.5,2816.1 L1592.5,2819.1 L1612.6,2816.1 L1618.6,2808.1 L1624.6,2812.1 L1642.7,2812.1 L1646.7,2808.1 L1658.7,2808.1 L1660.7,2800.0 L1668.7,2797.0 L1672.7,2804.1 L1690.8,2804.1 L1696.2,2800.5 L1702.5,2795.9 L1707.1,2791.2 L1712.6,2788.1 L1720.4,2788.1 L1725.1,2793.5 L1727.4,2800.5 L1730.5,2803.7 L1733.6,2813.0 L1735.2,2820.0 L1739.9,2823.9 L1746.1,2821.6 L1746.9,2807.6 L1751.0,2805.2 L1751.0,2771.0 L1754.0,2771.0 L1754.0,2676.4 L1758.5,2676.4 L1758.5,2449.1 L1761.0,2449.1 L1761.0,2537.0 L1764.0,2537.0 L1764.0,2857.4 L1768.0,2863.7 L1774.2,2869.9 L1780.4,2868.4 L1783.5,2865.2 L1789.6,2870.3 L1825.5,2870.3 L1829.6,2866.1 L1835.1,2869.6 L1837.9,2866.1 L1865.5,2866.1 L1868.2,2861.3 L1873.7,2865.5 L1879.2,2861.3 L1886.1,2860.0 L1890.3,2850.3 L1895.8,2860.0 L1901.3,2862.7 L1906.8,2858.6 L1931.6,2858.6 L1934.4,2854.4 L1938.5,2858.6 L1942.6,2854.4 L1957.8,2854.4 L1960.6,2850.3 L1967.5,2855.1 L1973.0,2850.3 L1988.1,2850.3 L1990.9,2846.2 L1997.9,2842.9 L2025.5,2842.9 L2034.7,2835.0 L2040.0,2821.8 L2043.9,2823.2 L2047.9,2820.5 L2050.5,2803.4 L2051.8,2820.5 L2053.2,2845.5 L2057.1,2849.5 L2068.9,2848.2 L2079.5,2852.1 L2086.1,2854.7 L2092.6,2845.5 L2100.5,2841.6 L2100.5,2815.3 L2104.5,2814.0 L2105.5,2748.6 L2110.0,2748.6 L2110.0,2890.3 L2113.7,2891.6 L2113.7,2917.9 L2120.3,2920.5 L2129.5,2923.2 L2141.3,2923.2 L2147.9,2915.3 L2151.8,2907.4 L2157.1,2895.5 L2161.0,2902.1 L2162.4,2921.8 L2170.3,2923.2 L2175.5,2921.8 L2183.4,2911.3 L2187.4,2917.9 L2188.7,2940.3" fill="none" stroke="#ff1f1f" stroke-width="3.2" stroke-linejoin="round"/>
<text transform="translate(161.2,67.2) scale(1.0145,1)" font-family="'Liberation Sans', Arial, sans-serif" font-size="50.0" font-weight="bold" fill="#000">50,000</text>
<text transform="translate(163.6,321.4) scale(1.0682,1)" font-family="'Liberation Sans', Arial, sans-serif" font-size="47.8" font-weight="bold" fill="#000">40,000</text>
<text transform="translate(167.6,579.0) scale(1.0311,1)" font-family="'Liberation Sans', Arial, sans-serif" font-size="49.2" font-weight="bold" fill="#000">30,000</text>
<text transform="translate(160.7,832.4) scale(1.0388,1)" font-family="'Liberation Sans', Arial, sans-serif" font-size="49.0" font-weight="bold" fill="#000">20,000</text>
<text transform="translate(164.4,1088.4) scale(1.0308,1)" font-family="'Liberation Sans', Arial, sans-serif" font-size="49.0" font-weight="bold" fill="#000">10,000</text>
<text transform="translate(296.9,1331.6) scale(1.0791,1)" font-family="'Liberation Sans', Arial, sans-serif" font-size="48.3" font-weight="bold" fill="#000">0</text>
<text transform="translate(196.4,1685.1) scale(1.0234,1)" font-family="'Liberation Sans', Arial, sans-serif" font-size="49.3" font-weight="bold" fill="#000">35,000</text>
<text transform="translate(196.4,1856.5) scale(1.0234,1)" font-family="'Liberation Sans', Arial, sans-serif" font-size="49.3" font-weight="bold" fill="#000">30,000</text>
<text transform="translate(200.7,2050.6) scale(1.0077,1)" font-family="'Liberation Sans', Arial, sans-serif" font-size="50.7" font-weight="bold" fill="#000">25,000</text>
<text transform="translate(196.2,2226.0) scale(1.0023,1)" font-family="'Liberation Sans', Arial, sans-serif" font-size="50.8" font-weight="bold" fill="#000">20,000</text>
<text transform="translate(190.2,2413.0) scale(0.9893,1)" font-family="'Liberation Sans', Arial, sans-serif" font-size="50.8" font-weight="bold" fill="#000">15,000</text>
<text transform="translate(192.8,2593.5) scale(1.0398,1)" font-family="'Liberation Sans', Arial, sans-serif" font-size="49.0" font-weight="bold" fill="#000">10,000</text>
<text transform="translate(221.0,2786.5) scale(1.0420,1)" font-family="'Liberation Sans', Arial, sans-serif" font-size="48.6" font-weight="bold" fill="#000">5,000</text>
<text transform="translate(321.1,2954.7) scale(1.0167,1)" font-family="'Liberation Sans', Arial, sans-serif" font-size="48.6" font-weight="bold" fill="#000">0</text>
<text transform="translate(295.8,1393.2) scale(1.0632,1)" font-family="'Liberation Sans', Arial, sans-serif" font-size="47.8" font-weight="bold" fill="#000">1,200</text>
<text transform="translate(596.2,1398.6) scale(1.0418,1)" font-family="'Liberation Sans', Arial, sans-serif" font-size="49.0" font-weight="bold" fill="#000">1000</text>
<text transform="translate(909.1,1397.7) scale(1.0653,1)" font-family="'Liberation Sans', Arial, sans-serif" font-size="47.8" font-weight="bold" fill="#000">800</text>
<text transform="translate(1224.9,1397.2) scale(1.0685,1)" font-family="'Liberation Sans', Arial, sans-serif" font-size="48.2" font-weight="bold" fill="#000">600</text>
<text transform="translate(1522.2,1405.0) scale(1.0852,1)" font-family="'Liberation Sans', Arial, sans-serif" font-size="47.2" font-weight="bold" fill="#000">400</text>
<text transform="translate(1821.6,1395.2) scale(1.0626,1)" font-family="'Liberation Sans', Arial, sans-serif" font-size="47.2" font-weight="bold" fill="#000">200</text>
<text transform="translate(2155.1,1404.5) scale(0.8507,1)" font-family="'Liberation Sans', Arial, sans-serif" font-size="47.2" font-weight="bold" fill="#000">0</text>
<text transform="translate(319.7,3007.1) scale(1.0423,1)" font-family="'Liberation Sans', Arial, sans-serif" font-size="48.6" font-weight="bold" fill="#000">1,200</text>
<text transform="translate(620.4,3012.0) scale(1.0332,1)" font-family="'Liberation Sans', Arial, sans-serif" font-size="48.9" font-weight="bold" fill="#000">1000</text>
<text transform="translate(933.0,3012.0) scale(1.0410,1)" font-family="'Liberation Sans', Arial, sans-serif" font-size="48.9" font-weight="bold" fill="#000">800</text>
<text transform="translate(1249.1,3010.5) scale(1.0885,1)" font-family="'Liberation Sans', Arial, sans-serif" font-size="47.1" font-weight="bold" fill="#000">600</text>
<text transform="translate(1545.2,3018.2) scale(1.0370,1)" font-family="'Liberation Sans', Arial, sans-serif" font-size="49.2" font-weight="bold" fill="#000">400</text>
<text transform="translate(1845.0,3009.3) scale(1.0275,1)" font-family="'Liberation Sans', Arial, sans-serif" font-size="49.9" font-weight="bold" fill="#000">200</text>
<text transform="translate(2176.1,3018.8) scale(1.0824,1)" font-family="'Liberation Sans', Arial, sans-serif" font-size="47.2" font-weight="bold" fill="#000">0</text>
<text x="943.4" y="1565.2" font-family="'Liberation Sans', Arial, sans-serif" font-size="67.5" fill="#1a1a1a" textLength="628.5" lengthAdjust="spacingAndGlyphs">Binding energy (eV)</text>
<text x="969.6" y="3168.0" font-family="'Liberation Sans', Arial, sans-serif" font-size="67.0" fill="#1a1a1a" textLength="626.8" lengthAdjust="spacingAndGlyphs">Binding energy (eV)</text>
<text transform="translate(77.9,841.0) rotate(-90)" font-family="'Liberation Sans', Arial, sans-serif" font-size="77.1" fill="#1a1a1a" textLength="388.7" lengthAdjust="spacingAndGlyphs">Intensity (cps)</text>
<text transform="translate(99.6,2458.4) rotate(-90)" font-family="'Liberation Sans', Arial, sans-serif" font-size="77.1" fill="#1a1a1a" textLength="387.7" lengthAdjust="spacingAndGlyphs">Intensity (cps)</text>
<text transform="translate(706.5,211.5) rotate(-90) scale(0.66,1)" font-family="'Liberation Sans', Arial, sans-serif" font-size="45.7" font-weight="bold" fill="#111" textLength="150.9" lengthAdjust="spacing">O KLL</text>
<text transform="translate(823.5,313.0) rotate(-90) scale(0.66,1)" font-family="'Liberation Sans', Arial, sans-serif" font-size="44.6" font-weight="bold" fill="#111" textLength="183.2" lengthAdjust="spacing">Fe LMM</text>
<text transform="translate(888.5,424.7) rotate(-90) scale(0.66,1)" font-family="'Liberation Sans', Arial, sans-serif" font-size="37.4" font-weight="bold" fill="#111" textLength="120.0" lengthAdjust="spacing">Fe 2s</text>
<text transform="translate(915.0,435.0) rotate(-90) scale(0.66,1)" font-family="'Liberation Sans', Arial, sans-serif" font-size="41.9" font-weight="bold" fill="#111" textLength="182.9" lengthAdjust="spacing">Fe LMM</text>
<text transform="translate(898.0,592.0) rotate(-90) scale(0.66,1)" font-family="'Liberation Sans', Arial, sans-serif" font-size="45.3" font-weight="bold" fill="#111" textLength="139.4" lengthAdjust="spacing">F KLL</text>
<text transform="translate(990.8,624.3) rotate(-90) scale(0.66,1)" font-family="'Liberation Sans', Arial, sans-serif" font-size="47.3" font-weight="bold" fill="#111" textLength="185.2" lengthAdjust="spacing">Fe LMM</text>
<text transform="translate(1081.6,537.8) rotate(-90) scale(0.66,1)" font-family="'Liberation Sans', Arial, sans-serif" font-size="38.5" font-weight="bold" fill="#111" textLength="170.9" lengthAdjust="spacing">Fe 2p<tspan font-size="26.2" dy="6.2">1/2</tspan></text>
<text transform="translate(1113.0,535.3) rotate(-90) scale(0.66,1)" font-family="'Liberation Sans', Arial, sans-serif" font-size="34.9" font-weight="bold" fill="#111" textLength="170.8" lengthAdjust="spacing">Fe 2p<tspan font-size="23.7" dy="5.6">3/2</tspan></text>
<text transform="translate(1377.6,600.3) rotate(-90) scale(0.66,1)" font-family="'Liberation Sans', Arial, sans-serif" font-size="43.7" font-weight="bold" fill="#111" textLength="110.2" lengthAdjust="spacing">O 1s</text>
<text transform="translate(1148.0,1152.7) rotate(-90) scale(0.66,1)" font-family="'Liberation Sans', Arial, sans-serif" font-size="46.8" font-weight="bold" fill="#111" textLength="101.8" lengthAdjust="spacing">F 1s</text>
<text transform="translate(1753.5,1175.7) rotate(-90) scale(0.66,1)" font-family="'Liberation Sans', Arial, sans-serif" font-size="45.0" font-weight="bold" fill="#111" textLength="107.6" lengthAdjust="spacing">C 1s</text>
<text transform="translate(1781.0,1232.0) rotate(-90) scale(0.66,1)" font-family="'Liberation Sans', Arial, sans-serif" font-size="45.7" font-weight="bold" fill="#111" textLength="118.2" lengthAdjust="spacing">Cl 2s</text>
<text transform="translate(1885.6,1221.8) rotate(-90) scale(0.66,1)" font-family="'Liberation Sans', Arial, sans-serif" font-size="45.3" font-weight="bold" fill="#111" textLength="122.4" lengthAdjust="spacing">Cl2p</text>
<text transform="translate(2029.5,1193.7) rotate(-90) scale(0.66,1)" font-family="'Liberation Sans', Arial, sans-serif" font-size="39.2" font-weight="bold" fill="#111" textLength="119.7" lengthAdjust="spacing">Fe 3s</text>
<text transform="translate(2094.4,1120.9) rotate(-90) scale(0.66,1)" font-family="'Liberation Sans', Arial, sans-serif" font-size="45.3" font-weight="bold" fill="#111" textLength="126.4" lengthAdjust="spacing">Fe 3p</text>
<text transform="translate(729.5,1829.6) rotate(-90) scale(0.66,1)" font-family="'Liberation Sans', Arial, sans-serif" font-size="49.0" font-weight="bold" fill="#111" textLength="150.9" lengthAdjust="spacing">O KLL</text>
<text transform="translate(846.7,1933.0) rotate(-90) scale(0.66,1)" font-family="'Liberation Sans', Arial, sans-serif" font-size="46.4" font-weight="bold" fill="#111" textLength="187.9" lengthAdjust="spacing">Fe LMM</text>
<text transform="translate(910.0,2044.0) rotate(-90) scale(0.66,1)" font-family="'Liberation Sans', Arial, sans-serif" font-size="38.3" font-weight="bold" fill="#111" textLength="121.4" lengthAdjust="spacing">Fe 2s</text>
<text transform="translate(937.7,2055.4) rotate(-90) scale(0.66,1)" font-family="'Liberation Sans', Arial, sans-serif" font-size="45.7" font-weight="bold" fill="#111" textLength="184.2" lengthAdjust="spacing">Fe LMM</text>
<text transform="translate(920.2,2207.8) rotate(-90) scale(0.66,1)" font-family="'Liberation Sans', Arial, sans-serif" font-size="45.0" font-weight="bold" fill="#111" textLength="139.1" lengthAdjust="spacing">F KLL</text>
<text transform="translate(1012.2,2242.9) rotate(-90) scale(0.66,1)" font-family="'Liberation Sans', Arial, sans-serif" font-size="44.6" font-weight="bold" fill="#111" textLength="183.3" lengthAdjust="spacing">Fe LMM</text>
<text transform="translate(1103.9,2154.5) rotate(-90) scale(0.66,1)" font-family="'Liberation Sans', Arial, sans-serif" font-size="39.2" font-weight="bold" fill="#111" textLength="166.4" lengthAdjust="spacing">Fe 2p<tspan font-size="26.7" dy="6.3">1/2</tspan></text>
<text transform="translate(1131.0,2151.4) rotate(-90) scale(0.66,1)" font-family="'Liberation Sans', Arial, sans-serif" font-size="35.8" font-weight="bold" fill="#111" textLength="164.2" lengthAdjust="spacing">Fe 2p<tspan font-size="24.3" dy="5.7">3/2</tspan></text>
<text transform="translate(1400.6,2118.6) rotate(-90) scale(0.66,1)" font-family="'Liberation Sans', Arial, sans-serif" font-size="47.2" font-weight="bold" fill="#111" textLength="111.5" lengthAdjust="spacing">O 1s</text>
<text transform="translate(1173.8,2724.7) rotate(-90) scale(0.66,1)" font-family="'Liberation Sans', Arial, sans-serif" font-size="46.4" font-weight="bold" fill="#111" textLength="102.4" lengthAdjust="spacing">F 1s</text>
<text transform="translate(1775.6,2445.5) rotate(-90) scale(0.66,1)" font-family="'Liberation Sans', Arial, sans-serif" font-size="45.7" font-weight="bold" fill="#111" textLength="104.7" lengthAdjust="spacing">C 1s</text>
<text transform="translate(1802.5,2851.6) rotate(-90) scale(0.66,1)" font-family="'Liberation Sans', Arial, sans-serif" font-size="45.1" font-weight="bold" fill="#111" textLength="122.1" lengthAdjust="spacing">Cl 2s</text>
<text transform="translate(1908.4,2840.3) rotate(-90) scale(0.66,1)" font-family="'Liberation Sans', Arial, sans-serif" font-size="49.0" font-weight="bold" fill="#111" textLength="121.7" lengthAdjust="spacing">Cl2p</text>
<text transform="translate(2057.0,2795.0) rotate(-90) scale(0.66,1)" font-family="'Liberation Sans', Arial, sans-serif" font-size="37.7" font-weight="bold" fill="#111" textLength="119.7" lengthAdjust="spacing">Fe 3s</text>
<text transform="translate(2115.7,2740.0) rotate(-90) scale(0.66,1)" font-family="'Liberation Sans', Arial, sans-serif" font-size="44.6" font-weight="bold" fill="#111" textLength="128.8" lengthAdjust="spacing">Fe 3p</text>
<text x="1874.6" y="151.1" font-family="'Liberation Serif', 'Times New Roman', serif" font-size="61.5" fill="#1a1a1a" textLength="45.7" lengthAdjust="spacingAndGlyphs">α</text>
<text x="1917.5" y="151.1" font-family="'Liberation Serif', 'Times New Roman', serif" font-size="61.5" fill="#1a1a1a" textLength="24.1" lengthAdjust="spacingAndGlyphs">-</text>
<text x="1937.9" y="151.1" font-family="'Liberation Serif', 'Times New Roman', serif" font-size="61.5" fill="#1a1a1a" textLength="40.4" lengthAdjust="spacingAndGlyphs">F</text>
<text x="1979.1" y="151.1" font-family="'Liberation Serif', 'Times New Roman', serif" font-size="61.5" fill="#1a1a1a" textLength="36.0" lengthAdjust="spacingAndGlyphs">e</text>
<text x="2004.2" y="157.7" font-family="'Liberation Serif', 'Times New Roman', serif" font-size="40.0" fill="#1a1a1a" textLength="28.1" lengthAdjust="spacingAndGlyphs">2</text>
<text x="2027.3" y="151.1" font-family="'Liberation Serif', 'Times New Roman', serif" font-size="61.5" fill="#1a1a1a" textLength="50.9" lengthAdjust="spacingAndGlyphs">O</text>
<text x="2078.6" y="157.7" font-family="'Liberation Serif', 'Times New Roman', serif" font-size="40.0" fill="#1a1a1a" textLength="24.0" lengthAdjust="spacingAndGlyphs">3</text>
<text x="1542.7" y="1783.9" font-family="'Liberation Serif', 'Times New Roman', serif" font-size="61.5" fill="#1a1a1a" textLength="45.7" lengthAdjust="spacingAndGlyphs">α</text>
<text x="1585.6" y="1783.9" font-family="'Liberation Serif', 'Times New Roman', serif" font-size="61.5" fill="#1a1a1a" textLength="24.0" lengthAdjust="spacingAndGlyphs">-</text>
<text x="1606.0" y="1783.9" font-family="'Liberation Serif', 'Times New Roman', serif" font-size="61.5" fill="#1a1a1a" textLength="39.4" lengthAdjust="spacingAndGlyphs">F</text>
<text x="1647.1" y="1783.9" font-family="'Liberation Serif', 'Times New Roman', serif" font-size="61.5" fill="#1a1a1a" textLength="36.1" lengthAdjust="spacingAndGlyphs">e</text>
<text x="1672.2" y="1793.0" font-family="'Liberation Serif', 'Times New Roman', serif" font-size="40.0" fill="#1a1a1a" textLength="28.2" lengthAdjust="spacingAndGlyphs">2</text>
<text x="1695.3" y="1783.9" font-family="'Liberation Serif', 'Times New Roman', serif" font-size="61.5" fill="#1a1a1a" textLength="50.9" lengthAdjust="spacingAndGlyphs">O</text>
<text x="1746.6" y="1793.0" font-family="'Liberation Serif', 'Times New Roman', serif" font-size="40.0" fill="#1a1a1a" textLength="25.1" lengthAdjust="spacingAndGlyphs">3</text>
<text x="1779.5" y="1783.9" font-family="'Liberation Serif', 'Times New Roman', serif" font-size="61.5" fill="#1a1a1a" textLength="18.1" lengthAdjust="spacingAndGlyphs">/</text>
<text x="1798.0" y="1783.9" font-family="'Liberation Serif', 'Times New Roman', serif" font-size="61.5" fill="#1a1a1a" textLength="58.0" lengthAdjust="spacingAndGlyphs">O</text>
<text x="1851.3" y="1783.9" font-family="'Liberation Serif', 'Times New Roman', serif" font-size="61.5" fill="#1a1a1a" textLength="24.1" lengthAdjust="spacingAndGlyphs">-</text>
<text x="1873.0" y="1783.9" font-family="'Liberation Serif', 'Times New Roman', serif" font-size="61.5" fill="#1a1a1a" textLength="72.3" lengthAdjust="spacingAndGlyphs">M</text>
<text x="1942.8" y="1783.9" font-family="'Liberation Serif', 'Times New Roman', serif" font-size="61.5" fill="#1a1a1a" textLength="64.1" lengthAdjust="spacingAndGlyphs">W</text>
<text x="2004.9" y="1783.9" font-family="'Liberation Serif', 'Times New Roman', serif" font-size="61.5" fill="#1a1a1a" textLength="51.3" lengthAdjust="spacingAndGlyphs">C</text>
<text x="2050.9" y="1783.9" font-family="'Liberation Serif', 'Times New Roman', serif" font-size="61.5" fill="#1a1a1a" textLength="56.7" lengthAdjust="spacingAndGlyphs">N</text>
<text x="2109.6" y="1783.9" font-family="'Liberation Serif', 'Times New Roman', serif" font-size="61.5" fill="#1a1a1a" textLength="43.8" lengthAdjust="spacingAndGlyphs">T</text>
</svg>
</body></html>
